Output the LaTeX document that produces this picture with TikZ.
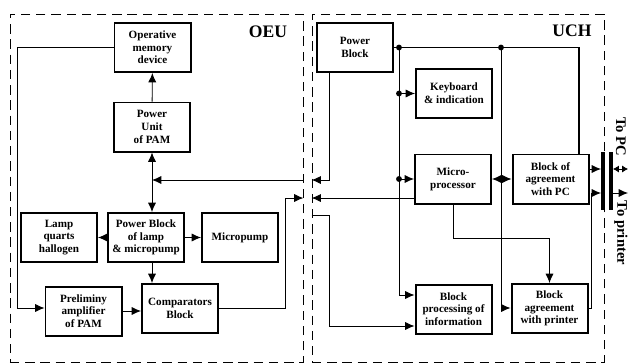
\documentclass[tikz,border=0pt]{standalone}
\usepackage{fontspec}
\setmainfont{Liberation Serif}
\usetikzlibrary{arrows.meta}

\begin{document}
\begin{tikzpicture}[x=0.03cm,y=-0.03cm,
	blk/.style={draw,line width=1.7pt,minimum width=2.28cm,minimum height=1.47cm,inner sep=1pt,align=center,font=\fontsize{9.5}{10.8}\selectfont\bfseries},
	zone/.style={draw,dash pattern=on 8pt off 5pt,line width=0.7pt},
	conn/.style={line width=0.75pt},
	bus/.style={line width=1.5pt},
	arr/.style={conn,-{Latex[length=8pt,width=7pt]}},
	darr/.style={conn,{Latex[length=8pt,width=7pt]}-{Latex[length=8pt,width=7pt]}},
	sarr/.style={conn,{Latex[length=5pt,width=6pt]}-{Latex[length=5pt,width=6pt]}},
	jdot/.style={circle,fill,inner sep=0pt,minimum size=5pt},
	jack/.style={fill,inner sep=0pt,minimum width=3pt,minimum height=1.74cm},
	ttl/.style={font=\fontsize{15}{17}\selectfont\bfseries},
	ext/.style={font=\fontsize{12.5}{14}\selectfont\bfseries,rotate=-90}]
	\useasboundingbox (0,0) rectangle (629,363);
	
	\node[zone,minimum width=8.79cm,minimum height=10.44cm] at (156.5,188) (oeu) {};
	\node[zone,minimum width=8.76cm,minimum height=10.44cm] at (458,188) (uch) {};
	\node[ttl] at (268,32) (oeut) {OEU};
	\node[ttl] at (572,31) (ucht) {UCH};
	
	\node[blk] at (152.5,47.5) (omd) {Operative\\memory\\device};
	\node[blk] at (152,127) (pupam) {Power\\Unit\\of PAM};
	\node[blk] at (59,237.5) (lamp) {Lamp\\quarts\\hallogen};
	\node[blk] at (146,237.5) (pbl) {Power Block\\of lamp\\\& micropump};
	\node[blk] at (240,237.5) (mpump) {Micropump};
	\node[blk] at (83.5,311) (pamp) {Preliminy\\amplifier\\of PAM};
	\node[blk] at (180,308.5) (comp) {Comparators\\Block};
	
	\node[blk] at (355,47.5) (pb) {Power\\Block};
	\node[blk] at (454,93.5) (kbd) {Keyboard\\\& indication};
	\node[blk] at (453,179) (mcp) {Micro-\\processor};
	\node[blk] at (550.5,179) (bpc) {Block of\\agreement\\with PC};
	\node[blk] at (453.5,309) (bpi) {Block\\processing of\\information};
	\node[blk] at (549.5,308.5) (bap) {Block\\agreement\\with printer};
	
	\node[jack] at (603,181) (jack1) {};
	\node[jack] at (611,181) (jack2) {};
	\node[ext] at (621,137) (pclbl) {To PC};
	\node[ext] at (621,233) (prnlbl) {To printer};
	
	\coordinate (pwr) at (0,180);
	\coordinate (sig) at (0,198);
	\coordinate (inf) at (0,215);
	\coordinate (lft) at (17,308);
	\coordinate (cmpup) at (285,198);
	\coordinate (pbdn) at (329,180);
	\coordinate (infdn) at (329,326);
	\coordinate (mcpdn) at (453,238);
	\coordinate (bapup) at (591,193);
	\coordinate (topc) at (628,169);
	\coordinate (toprn) at (628,193);
	\node[jdot] at (399,47.5) (n1) {};
	\node[jdot] at (501,47.5) (n2) {};
	\node[jdot] at (399,93.5) (n3) {};
	\node[jdot] at (399,179) (n4) {};
	\coordinate (n5) at (579,47.5);
	\coordinate (n1b) at (399,295);
	\coordinate (n2b) at (501,308);
	
	\draw[arr] (pupam) -- (omd);
	\draw[arr] (omd.west) -| (lft) -- (lft -| pamp.west);
	\draw[darr] (pupam.south) -- (pupam.south |- pbl.north);
	\draw[arr] (oeu.east |- pwr) -- (pupam.south |- pwr);
	\draw[arr] (pbl) -- (lamp);
	\draw[arr] (pbl) -- (mpump);
	\draw[arr] (pupam.south |- pbl.south) -- (pupam.south |- comp.north);
	\draw[arr] (pamp.east) -- (pamp.east -| comp.west);
	\draw[arr] (comp.east) -| (cmpup) -- (oeu.east |- cmpup);
	
	\draw[arr] (pb.south -| pbdn) -- (pbdn) -- (uch.west |- pbdn);
	\draw[arr] (mcp.west |- sig) -- (uch.west |- sig);
	\draw[arr] (uch.west |- inf) -| (infdn) -- (infdn -| bpi.west);
	\draw[bus] (pb.east) -- (n5) -- (n5 |- bpc.north);
	\draw[arr] (n1.center) -- (n1b) -- (n1b -| bpi.west);
	\draw[arr] (n3.center) -- (kbd.west);
	\draw[arr] (n4.center) -- (mcp.west);
	\draw[arr] (n2.center) -- (n2b) -- (n2b -| bap.west);
	\draw[darr] (mcp) -- (bpc);
	\draw[arr] (mcp.south) -- (mcpdn) -| (bap.north);
	\draw[arr] (bpc.east |- topc) -- (jack1.west |- topc);
	\draw[arr] (bap.east) -| (bapup) -- (jack1.west |- bapup);
	\draw[sarr] (jack2.east |- topc) -- (topc);
	\draw[arr] (jack2.east |- toprn) -- (toprn);
\end{tikzpicture}
\end{document}
